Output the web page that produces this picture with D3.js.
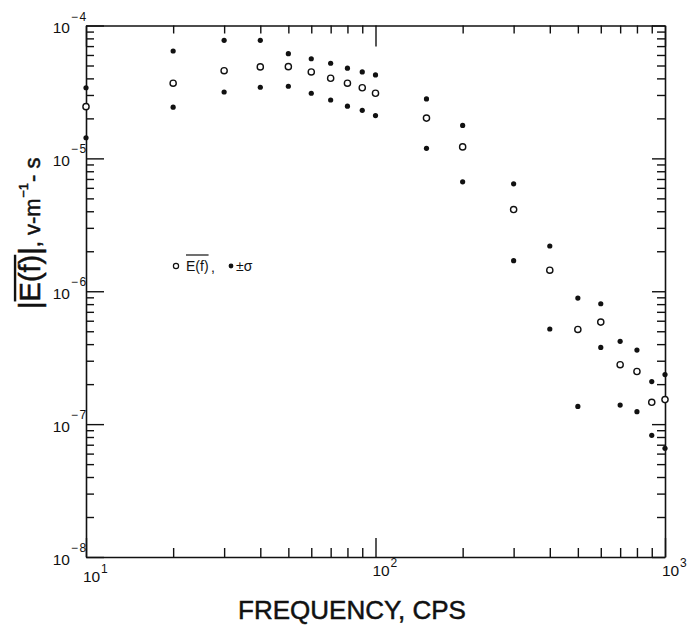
<!DOCTYPE html>
<html>
<head>
<meta charset="utf-8">
<script src="https://cdn.jsdelivr.net/npm/d3@7"></script>
<style>
  html, body { margin: 0; padding: 0; background: #fff; }
  svg { display: block; }
  text { font-family: "Liberation Sans", Arial, sans-serif; fill: #111; }
  .title { stroke: #111; stroke-width: 0.5; }
  .axis .domain { stroke: #111; stroke-width: 1.6; }
  .axis .tick line { stroke: #111; stroke-width: 1.4; }
</style>
</head>
<body>
<svg id="chart" width="687" height="628"></svg>
<script>
// ---- data ----
const freq   = [10, 20, 30, 40, 50, 60, 70, 80, 90, 100, 150, 200, 300, 400, 500, 600, 700, 800, 900, 1000];
const meanE  = [2.45e-5, 3.68e-5, 4.57e-5, 4.88e-5, 4.90e-5, 4.47e-5, 4.01e-5, 3.68e-5, 3.40e-5, 3.09e-5,
                2.01e-5, 1.22e-5, 4.12e-6, 1.44e-6, 5.16e-7, 5.86e-7, 2.80e-7, 2.49e-7, 1.46e-7, 1.53e-7];
const upperE = [3.40e-5, 6.43e-5, 7.74e-5, 7.74e-5, 6.14e-5, 5.62e-5, 5.20e-5, 4.77e-5, 4.47e-5, 4.25e-5,
                2.80e-5, 1.77e-5, 6.43e-6, 2.19e-6, 8.89e-7, 8.05e-7, 4.20e-7, 3.61e-7, 2.09e-7, 2.36e-7];
const lowerE = [1.43e-5, 2.43e-5, 3.16e-5, 3.43e-5, 3.49e-5, 3.09e-5, 2.75e-5, 2.47e-5, 2.30e-5, 2.10e-5,
                1.19e-5, 6.66e-6, 1.70e-6, 5.20e-7, 1.36e-7, 3.78e-7, 1.39e-7, 1.24e-7, 8.24e-8, 6.58e-8];
const xMajorExp = [1, 2, 3];
const yMajorExp = [-8, -7, -6, -5, -4];
const xTitle = "FREQUENCY, CPS";

// ---- layout ----
const svg = d3.select("#chart");
const L = 86, R = 665, T = 25.5, B = 557;
const x = d3.scaleLog().domain([10, 1000]).range([L, R]);
const y = d3.scaleLog().domain([1e-8, 1e-4]).range([B, T]);

const xMajors = xMajorExp.map(e => Math.pow(10, e));
const yMajors = yMajorExp.map(e => Math.pow(10, e));
const xMinors = [], yMinors = [];
[10, 100].forEach(d => { for (let k = 2; k <= 9; k++) xMinors.push(k * d); });
[-8, -7, -6, -5].forEach(e => { for (let k = 2; k <= 9; k++) yMinors.push(+(k + "e" + e)); });

function addAxis(axisGen, tx, ty, vals, size, keepDomain) {
  const g = svg.append("g").attr("class", "axis").attr("transform", `translate(${tx},${ty})`)
    .call(axisGen.tickValues(vals).tickSize(size).tickSizeOuter(0).tickFormat(""));
  if (!keepDomain) g.select(".domain").remove();
  return g;
}
// left
addAxis(d3.axisLeft(y), L, 0, yMinors, -8, true);
addAxis(d3.axisLeft(y), L, 0, yMajors, -18, false);
// right
addAxis(d3.axisRight(y), R, 0, yMinors, -8, true);
addAxis(d3.axisRight(y), R, 0, yMajors, -13, false);
// bottom
addAxis(d3.axisBottom(x), 0, B, xMinors, -9, true);
addAxis(d3.axisBottom(x), 0, B, xMajors, -19, false);
// top
addAxis(d3.axisTop(x), 0, T, xMinors, -8, true);
addAxis(d3.axisTop(x), 0, T, xMajors, -21, false);

// ---- tick labels ----
yMajorExp.forEach(e => {
  const py = y(Math.pow(10, e));
  svg.append("text").attr("x", 70).attr("y", py + 7.5).attr("text-anchor", "end")
    .attr("font-size", 15.5).text("10");
  svg.append("text").attr("x", 71).attr("y", py - 5).attr("font-size", 12)
    .attr("letter-spacing", 1.5).text("\u2212" + Math.abs(e));
});
xMajorExp.forEach(e => {
  const px = x(Math.pow(10, e));
  svg.append("text").attr("x", px - 3).attr("y", e === 1 ? 582 : 576).attr("font-size", 15.5).text("10");
  svg.append("text").attr("x", px + 15).attr("y", e === 1 ? 573 : 567).attr("font-size", 12).text(e);
});

// ---- points ----
const idx = d3.range(freq.length);
svg.append("g").selectAll("circle.up").data(idx).join("circle")
  .attr("cx", i => x(freq[i])).attr("cy", i => y(upperE[i])).attr("r", 2.6).attr("fill", "#111");
svg.append("g").selectAll("circle.lo").data(idx).join("circle")
  .attr("cx", i => x(freq[i])).attr("cy", i => y(lowerE[i])).attr("r", 2.6).attr("fill", "#111");
svg.append("g").selectAll("circle.mean").data(idx).join("circle")
  .attr("cx", i => x(freq[i])).attr("cy", i => y(meanE[i])).attr("r", 3.1)
  .attr("fill", "#fff").attr("stroke", "#111").attr("stroke-width", 1.4);

// ---- legend ----
const lg = svg.append("g");
lg.append("circle").attr("cx", 176).attr("cy", 266).attr("r", 2.6)
  .attr("fill", "#fff").attr("stroke", "#111").attr("stroke-width", 1.2);
const ef = lg.append("text").attr("x", 186).attr("y", 270.5).attr("font-size", 14).text("E(f)");
const efw = ef.node().getComputedTextLength();
lg.append("line").attr("x1", 186).attr("x2", 186 + efw).attr("y1", 255).attr("y2", 255)
  .attr("stroke", "#111").attr("stroke-width", 1.2);
lg.append("text").attr("x", 211).attr("y", 272).attr("font-size", 14).text(",");
lg.append("circle").attr("cx", 231).attr("cy", 266).attr("r", 2.4).attr("fill", "#111");
lg.append("text").attr("x", 236).attr("y", 270.5).attr("font-size", 14).text("\u00B1\u03C3");

// ---- x title ----
svg.append("text").attr("class", "title").attr("x", 352).attr("y", 619).attr("text-anchor", "middle")
  .attr("font-size", 26).text(xTitle);

// ---- y title (rotated) ----
const yt = svg.append("g").attr("transform", "translate(40,309) rotate(-90)");
let cx = 0;
function part(str, size, dy, opts) {
  const t = yt.append("text").attr("class", "title").attr("x", cx).attr("y", dy).attr("font-size", size).text(str);
  const w = t.node().getComputedTextLength();
  if (opts && opts.overline) {
    yt.append("line").attr("x1", cx).attr("x2", cx + w)
      .attr("y1", -size * 0.86).attr("y2", -size * 0.86).attr("stroke", "#111").attr("stroke-width", 2.4);
  }
  cx += w + (opts && opts.gap ? opts.gap : 0);
  return t;
}
part("|", 29, 0);
part("E(f)", 29, 0, { overline: true });
part("|", 29, 0);
part(", v-m", 22, 0, { gap: 0.5 });
part("\u22121", 13, -12, { gap: 1 });
part("- s", 22, 0);
</script>
</body>
</html>
